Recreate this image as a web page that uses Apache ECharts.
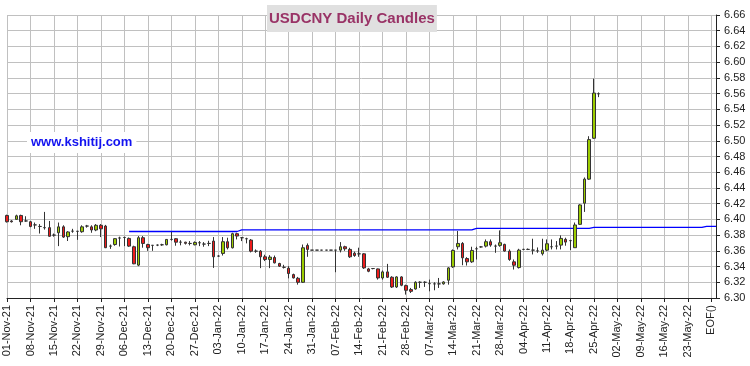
<!DOCTYPE html>
<html><head><meta charset="utf-8">
<script src="https://cdn.jsdelivr.net/npm/echarts@6/dist/echarts.min.js"></script>
<style>html,body{margin:0;padding:0;background:#fff}#c{width:750px;height:366px}</style>
</head><body><div id="c"></div>
<script>
// Weekly tick labels (Mondays), 5 trading days per week
const weekLabels = ['01-Nov-21','08-Nov-21','15-Nov-21','22-Nov-21','29-Nov-21','06-Dec-21','13-Dec-21','20-Dec-21','27-Dec-21','03-Jan-22','10-Jan-22','17-Jan-22','24-Jan-22','31-Jan-22','07-Feb-22','14-Feb-22','21-Feb-22','28-Feb-22','07-Mar-22','14-Mar-22','21-Mar-22','28-Mar-22','04-Apr-22','11-Apr-22','18-Apr-22','25-Apr-22','02-May-22','09-May-22','16-May-22','23-May-22'];
const endLabel = 'EOF()';
const daysPerWeek = 5;

// Daily candles: [open, close, low, high]
const candles = [
[6.405,6.397,6.396,6.406],[6.398,6.397,6.396,6.399],[6.400,6.4045,6.3995,6.406],[6.405,6.397,6.3925,6.406],[6.398,6.398,6.397,6.404],
[6.397,6.391,6.390,6.398],[6.393,6.393,6.388,6.396],[6.391,6.391,6.382,6.394],[6.3895,6.3895,6.387,6.4095],[6.3895,6.3785,6.378,6.398],
[6.380,6.380,6.378,6.382],[6.383,6.3905,6.366,6.396],[6.3905,6.3775,6.3765,6.3925],[6.378,6.384,6.3725,6.385],[6.385,6.385,6.383,6.388],
[6.3848,6.3848,6.374,6.3855],[6.3843,6.3905,6.383,6.3925],[6.3915,6.3915,6.3895,6.393],[6.3905,6.3865,6.383,6.3925],[6.3865,6.3925,6.385,6.394],
[6.3925,6.388,6.3775,6.394],[6.3915,6.364,6.3635,6.393],[6.366,6.366,6.3625,6.368],[6.368,6.3755,6.3665,6.376],[6.3763,6.3763,6.3655,6.378],
[6.377,6.377,6.366,6.378],[6.3758,6.366,6.365,6.377],[6.3652,6.3435,6.343,6.3665],[6.3418,6.3767,6.3405,6.3788],[6.3767,6.3694,6.364,6.3788],
[6.368,6.364,6.360,6.369],[6.367,6.367,6.360,6.367],[6.3673,6.3673,6.366,6.368],[6.3677,6.3677,6.3664,6.369],[6.3677,6.3745,6.367,6.375],
[6.3745,6.3745,6.373,6.384],[6.3754,6.371,6.3665,6.376],[6.371,6.371,6.367,6.3735],[6.371,6.3695,6.368,6.3715],[6.3694,6.3694,6.3669,6.3724],
[6.3677,6.3707,6.367,6.372],[6.3703,6.3703,6.366,6.3724],[6.3686,6.3686,6.3652,6.3711],[6.3694,6.3694,6.366,6.3728],[6.3724,6.3524,6.3383,6.3775],
[6.3533,6.3533,6.3525,6.3545],[6.3567,6.3716,6.354,6.3775],[6.3716,6.3639,6.3618,6.3767],[6.3639,6.3818,6.363,6.383],[6.3818,6.3788,6.3745,6.383],
[6.3767,6.3767,6.3724,6.3775],[6.3754,6.3754,6.3695,6.3767],[6.3737,6.3596,6.358,6.375],[6.3596,6.3596,6.3575,6.3618],[6.3596,6.3524,6.338,6.361],
[6.3524,6.349,6.347,6.355],[6.349,6.352,6.338,6.3545],[6.3515,6.3447,6.344,6.354],[6.3439,6.3405,6.3395,6.3448],[6.339,6.339,6.3375,6.3422],
[6.3379,6.3311,6.325,6.3405],[6.3298,6.3256,6.3248,6.331],[6.3251,6.320,6.317,6.3268],[6.320,6.3639,6.3192,6.368],[6.3669,6.3618,6.3524,6.3694],
[6.3609,6.3609,6.3609,6.3609],[6.3609,6.3609,6.3609,6.3609],[6.3609,6.3609,6.3609,6.3609],[6.3609,6.3609,6.3609,6.3609],[6.3609,6.3609,6.3609,6.3609],
[6.3609,6.3609,6.3328,6.3609],[6.3609,6.3652,6.358,6.3711],[6.3652,6.3626,6.360,6.3665],[6.3618,6.3524,6.351,6.3639],[6.357,6.354,6.3524,6.359],
[6.3562,6.3562,6.3524,6.364],[6.3562,6.3383,6.337,6.357],[6.337,6.334,6.3328,6.3383],[6.3375,6.3375,6.3365,6.338],[6.337,6.3255,6.3234,6.3375],
[6.3255,6.3332,6.3234,6.335],[6.3332,6.3264,6.3255,6.3434],[6.3264,6.314,6.3128,6.3277],[6.314,6.3268,6.3128,6.3277],[6.3268,6.3162,6.315,6.3277],
[6.3158,6.3098,6.3043,6.317],[6.3107,6.3085,6.3064,6.3128],[6.3115,6.320,6.3107,6.3213],[6.320,6.320,6.3128,6.3213],[6.320,6.320,6.3141,6.3213],
[6.3183,6.3183,6.3085,6.3234],[6.318,6.318,6.3098,6.320],[6.318,6.318,6.3128,6.3255],[6.318,6.3204,6.317,6.3213],[6.3226,6.3383,6.317,6.3392],
[6.3396,6.3605,6.3383,6.3618],[6.3652,6.3694,6.3617,6.3852],[6.3694,6.3511,6.3417,6.3711],[6.3502,6.346,6.3413,6.3519],[6.346,6.3605,6.3447,6.3652],
[6.3626,6.3626,6.349,6.3652],[6.365,6.365,6.364,6.366],[6.366,6.3716,6.3643,6.3745],[6.3716,6.3673,6.3652,6.3745],[6.366,6.366,6.3575,6.368],
[6.3669,6.3703,6.3652,6.386],[6.3682,6.3597,6.359,6.369],[6.3596,6.349,6.3473,6.3618],[6.346,6.3417,6.3362,6.349],[6.3387,6.3609,6.3375,6.3626],
[6.3618,6.3618,6.3609,6.3626],[6.3618,6.3618,6.361,6.363],[6.3609,6.3609,6.3554,6.3754],[6.360,6.360,6.3575,6.3643],[6.3563,6.3609,6.3541,6.3754],
[6.3609,6.369,6.3596,6.3745],[6.3652,6.3652,6.3618,6.3745],[6.366,6.366,6.3618,6.3724],[6.3673,6.3758,6.3618,6.3797],[6.3746,6.3711,6.3665,6.3767],
[6.373,6.373,6.361,6.3741],[6.364,6.3929,6.364,6.396],[6.3937,6.4184,6.3929,6.4193],[6.4206,6.4512,6.4095,6.4533],[6.4512,6.5015,6.4503,6.5058],
[6.5032,6.5607,6.5024,6.579],[6.5598,6.5598,6.5555,6.5615]
];

// Blue level line: trading-day index where each level starts, and its value
const levelStartDay = [26, 49, 99, 124, 148];
const levelValue = [6.3846, 6.3866, 6.3886, 6.3898, 6.3911];
const levelEndDay = 150;

// Y axis ticks
const yMin = 6.30, yMax = 6.66, yStep = 0.02;

// Build categories: every weekday, then EOF() and one pad slot
const days = [];
weekLabels.forEach(w => { for (let d = 0; d < daysPerWeek; d++) days.push(d === 0 ? w : w + '+' + d); });
days.push(endLabel);
days.push('pad');

const levelData = days.map((_, i) => {
  if (i < levelStartDay[0] || i > levelEndDay) return null;
  let v = null;
  for (let k = 0; k < levelStartDay.length; k++) if (i >= levelStartDay[k]) v = levelValue[k];
  return v;
});

const tickFn = (i) => i % daysPerWeek === 0 && i <= weekLabels.length * daysPerWeek;
const FONT = '"Liberation Sans", Arial, sans-serif';

const chart = echarts.init(document.getElementById('c'));
chart.setOption({
  animation: false,
  backgroundColor: '#ffffff',
  title: {
    text: 'USDCNY Daily Candles', left: 267, top: 5, padding: [6, 2],
    backgroundColor: '#e0e0e0',
    textStyle: { fontFamily: FONT, fontSize: 15, fontWeight: 'bold', color: '#993366' }
  },
  graphic: [{
    type: 'text', left: 27, top: 132, z: 100,
    style: { text: 'www.kshitij.com', font: 'bold 13px "Liberation Sans", Arial, sans-serif', fill: '#1212f0', backgroundColor: '#ffffff', padding: [4, 4] }
  }],
  grid: { left: 7, right: 34, top: 15, bottom: 68 },
  xAxis: {
    type: 'category', data: days, boundaryGap: false,
    axisLine: { lineStyle: { color: '#222', width: 1 } },
    axisTick: { interval: tickFn, length: 4, lineStyle: { color: '#222' } },
    axisLabel: {
      interval: tickFn, rotate: 90, fontSize: 11, color: '#222', fontFamily: FONT, margin: 7,
      formatter: (v) => v
    },
    splitLine: { show: true, interval: tickFn, lineStyle: { color: '#c0c0c0', width: 1 } }
  },
  yAxis: {
    type: 'value', position: 'right', min: yMin, max: yMax, interval: yStep, scale: true,
    axisLine: { show: true, lineStyle: { color: '#222', width: 1 } },
    axisTick: { show: true, length: 4, lineStyle: { color: '#222' } },
    axisLabel: { formatter: (v) => v.toFixed(2), fontSize: 11, color: '#222', fontFamily: FONT, margin: 8 },
    splitLine: { show: true, lineStyle: { color: '#c0c0c0', width: 1 } }
  },
  series: [
    {
      type: 'line', data: levelData, step: 'end', symbol: 'none', connectNulls: false,
      lineStyle: { color: '#0000ff', width: 1.3 }, z: 2
    },
    {
      type: 'candlestick', data: candles, barWidth: 3, clip: false, z: 3,
      itemStyle: {
        color: '#9ccc00', color0: '#ee1c1c',
        borderColor: '#333', borderColor0: '#333', borderColorDoji: '#333', borderWidth: 1
      }
    }
  ]
});
</script>
</body></html>
